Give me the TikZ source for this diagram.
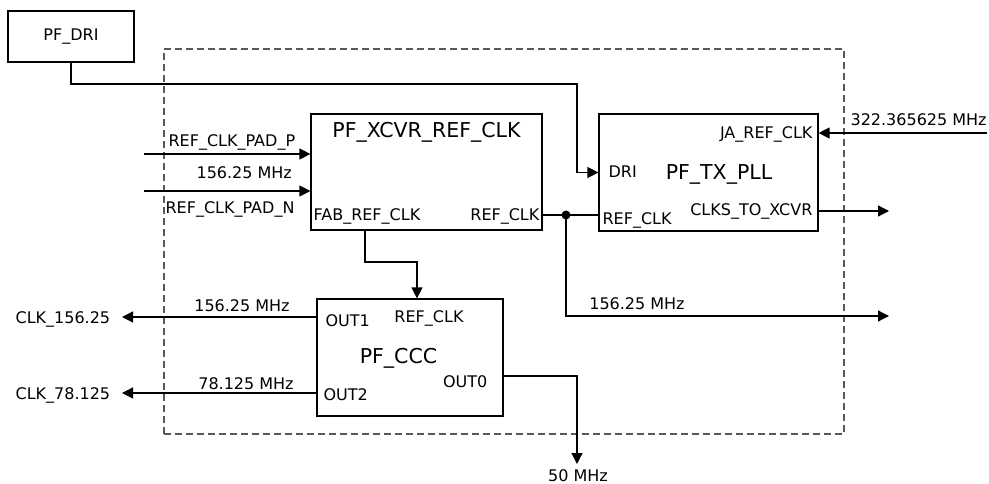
\documentclass[tikz,border=0pt]{standalone}
\usepackage{fontspec}
\setmainfont{DejaVu Sans}
\usetikzlibrary{arrows.meta}
\begin{document}
\begin{tikzpicture}[x=1pt,y=-1pt,
  line width=1.2pt,
  box/.style={draw, rectangle, inner sep=0pt, line width=1.2pt},
  arr/.style={-{Triangle[length=11pt,width=11pt]}},
  lbl/.style={inner sep=0pt, font=\fontsize{16}{18}\selectfont},
  ttl/.style={inner sep=0pt, font=\fontsize{20.5}{24}\selectfont}]
\useasboundingbox (0,0) rectangle (989,484);
% frame
\node[box, draw=black!65, dash pattern=on 7pt off 4pt, minimum width=680pt, minimum height=385pt] (frame) at (504,241.5) {};
% boxes
\node[box, minimum width=126pt, minimum height=51pt] (dri) at (71,36.5) {};
\node[box, minimum width=231pt, minimum height=116pt] (xcvr) at (426.5,172) {};
\node[box, minimum width=219pt, minimum height=117pt] (pll) at (708.5,172.5) {};
\node[box, minimum width=186pt, minimum height=117pt] (ccc) at (410,357.5) {};
% coordinates
\coordinate (dribend) at (577,84);
\coordinate (padp) at (144,154);
\coordinate (padn) at (144,191);
\coordinate (junc) at (566,215);
\coordinate (out156) at (889,316);
\coordinate (ja) at (987,133);
\coordinate (clks) at (889,211);
\coordinate (fab) at (365,262);
\coordinate (fabin) at (417,262);
\coordinate (c156) at (122,317);
\coordinate (c78) at (122,393);
\coordinate (o0) at (577,376);
\coordinate (m50) at (577,464);
% connectors
\draw[arr] (dri.south) |- (dribend) |- (pll.west);
\draw[arr] (padp) -- (padp -| xcvr.west);
\draw[arr] (padn) -- (padn -| xcvr.west);
\draw (junc -| xcvr.east) -- (junc -| pll.west);
\fill (junc) circle (4.5pt);
\draw[arr] (junc) |- (out156);
\draw[arr] (ja) -- (ja -| pll.east);
\draw[arr] (clks -| pll.east) -- (clks);
\draw[arr] (fab |- xcvr.south) -- (fab) -- (fabin) -- (fabin |- ccc.north);
\draw[arr] (c156 -| ccc.west) -- (c156);
\draw[arr] (c78 -| ccc.west) -- (c78);
\draw[arr] (o0 -| ccc.east) -- (o0) -- (m50);
% texts
\node[lbl, anchor=base] (tdri) at (71,41) {PF\_DRI};
\node[lbl, anchor=base west] (tpadp) at (168,147) {REF\_CLK\_PAD\_P};
\node[lbl, anchor=base west] (tf1) at (196,179) {156.25 MHz};
\node[lbl, anchor=base west] (tpadn) at (165,214) {REF\_CLK\_PAD\_N};
\node[ttl, anchor=base] (txcvr) at (426.5,138) {PF\_XCVR\_REF\_CLK};
\node[lbl, anchor=base west] (tfab) at (313,221) {FAB\_REF\_CLK};
\node[lbl, anchor=base east] (trc1) at (540,221) {REF\_CLK};
\node[lbl, anchor=base east] (tja) at (813,139) {JA\_REF\_CLK};
\node[lbl, anchor=base west] (tf322) at (850,126) {322.365625 MHz};
\node[lbl, anchor=base west] (tdri2) at (608,178) {DRI};
\node[ttl, anchor=base] (tpll) at (719,180) {PF\_TX\_PLL};
\node[lbl, anchor=base east] (tclks) at (813,216) {CLKS\_TO\_XCVR};
\node[lbl, anchor=base west] (trc2) at (602,225) {REF\_CLK};
\node[lbl, anchor=base] (tf2) at (637,309) {156.25 MHz};
\node[lbl, anchor=base west] (tout1) at (325,326) {OUT1};
\node[lbl, anchor=base] (trc3) at (429,322) {REF\_CLK};
\node[ttl, anchor=base] (tccc) at (398.5,363) {PF\_CCC};
\node[lbl, anchor=base east] (tout0) at (488,387) {OUT0};
\node[lbl, anchor=base west] (tout2) at (323,400) {OUT2};
\node[lbl, anchor=base] (t50) at (578,481) {50 MHz};
\node[lbl, anchor=base west] (tc156) at (15,323) {CLK\_156.25};
\node[lbl, anchor=base] (tf3) at (242,311) {156.25 MHz};
\node[lbl, anchor=base west] (tc78) at (15,399) {CLK\_78.125};
\node[lbl, anchor=base] (tf4) at (246,389.5) {78.125 MHz};
\end{tikzpicture}
\end{document}
